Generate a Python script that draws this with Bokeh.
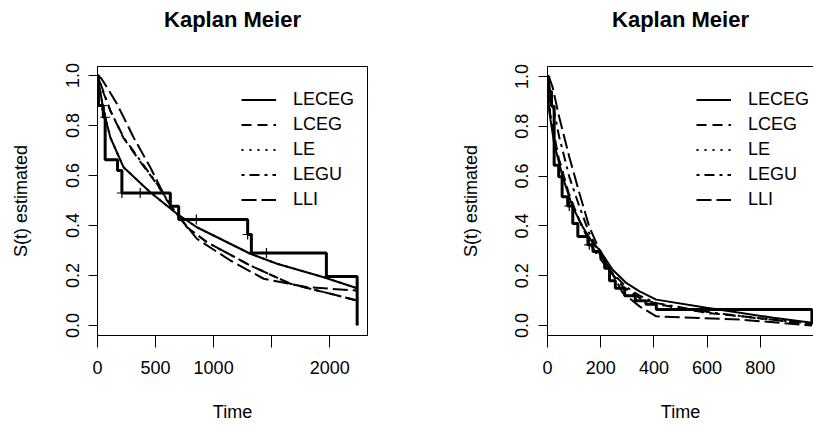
import math
from bokeh.plotting import figure
from bokeh.models import FixedTicker, Legend, LegendItem, LinearAxis, Range1d
from bokeh.layouts import row
from bokeh.embed import file_html
from bokeh.resources import INLINE

FONT = "Liberation Sans"

title_text = "Kaplan Meier"
series_names = ["LECEG", "LCEG", "LE", "LEGU", "LLI"]
series_dash = ["solid", "10 6", "2 6", "3 5 10 5", "15 5"]

# ---------------- Left panel data ----------------
left_km_time = [0, 8, 50, 66, 172, 210, 627, 699, 1293, 1325, 1971, 2236]
left_km_surv = [1.0, 0.88, 0.833, 0.663, 0.62, 0.53, 0.477, 0.424, 0.364, 0.29, 0.196, 0.0]
left_cens_time = [38, 66, 210, 368, 851, 1293, 1455]
left_cens_surv = [0.88, 0.833, 0.53, 0.53, 0.424, 0.364, 0.29]

left_leceg_t = [0, 52, 110, 224, 454, 684, 856, 1316, 1546, 1948, 2236]
left_leceg_s = [1.0, 0.86, 0.753, 0.633, 0.533, 0.447, 0.393, 0.287, 0.247, 0.193, 0.149]
left_lceg_t = [0, 52, 110, 224, 368, 512, 641, 771, 943, 1316, 1661, 2236]
left_lceg_s = [1.0, 0.93, 0.86, 0.75, 0.655, 0.565, 0.473, 0.393, 0.333, 0.24, 0.167, 0.10]
left_le_t = [0, 52, 110, 224, 454, 684, 856, 1316, 1546, 1948, 2236]
left_le_s = [1.0, 0.86, 0.753, 0.633, 0.533, 0.447, 0.393, 0.287, 0.247, 0.193, 0.149]
left_legu_t = [0, 40, 110, 224, 368, 512, 641, 771, 943, 1316, 1661, 2236]
left_legu_s = [1.0, 0.95, 0.86, 0.753, 0.66, 0.567, 0.473, 0.393, 0.333, 0.24, 0.167, 0.10]
left_lli_t = [0, 30, 81, 167, 310, 454, 598, 684, 856, 1144, 1431, 1805, 2236]
left_lli_s = [1.0, 0.99, 0.953, 0.887, 0.753, 0.633, 0.5, 0.447, 0.347, 0.26, 0.187, 0.153, 0.14]

left_x_ticks = [0, 500, 1000, 1500, 2000]
left_x_labels = ["0", "500", "1000", "", "2000"]

# ---------------- Right panel data ----------------
right_km_time = [0, 5, 15, 25, 42, 55, 76, 95, 114, 152, 171, 200, 215, 233, 255, 290, 330, 370, 409, 994]
right_km_surv = [1.0, 0.94, 0.88, 0.644, 0.597, 0.517, 0.48, 0.41, 0.357, 0.324, 0.297, 0.27, 0.23,
                 0.18, 0.15, 0.12, 0.10, 0.085, 0.064, 0.004]
right_cens_time = [82, 157]
right_cens_surv = [0.48, 0.324]

right_leceg_t = [0, 6, 25, 57, 94, 132, 170, 195, 245, 296, 346, 409, 598, 723, 849, 994]
right_leceg_s = [1.0, 0.864, 0.731, 0.597, 0.477, 0.397, 0.331, 0.304, 0.224, 0.171, 0.137, 0.104,
                 0.071, 0.051, 0.031, 0.011]
right_lceg_t = [0, 10, 40, 80, 120, 170, 220, 283, 346, 421, 598, 786, 994]
right_lceg_s = [1.0, 0.85, 0.68, 0.53, 0.42, 0.31, 0.237, 0.157, 0.111, 0.084, 0.051, 0.031, 0.004]
right_le_t = [0, 10, 40, 80, 120, 170, 220, 283, 346, 421, 598, 786, 994]
right_le_s = [1.0, 0.85, 0.68, 0.53, 0.42, 0.31, 0.237, 0.157, 0.111, 0.084, 0.051, 0.031, 0.004]
right_legu_t = [0, 19, 44, 82, 120, 157, 195, 245, 296, 346, 409, 598, 786, 994]
right_legu_s = [1.0, 0.891, 0.757, 0.597, 0.477, 0.371, 0.29, 0.21, 0.155, 0.12, 0.09, 0.055, 0.03, 0.008]
right_lli_t = [0, 8, 19, 44, 82, 120, 157, 195, 283, 346, 409, 723, 994]
right_lli_s = [1.0, 0.99, 0.957, 0.837, 0.677, 0.531, 0.397, 0.304, 0.131, 0.077, 0.037, 0.024, 0.0]

right_x_ticks = [0, 200, 400, 600, 800]
right_x_labels = ["0", "200", "400", "600", "800"]

y_ticks = [0.0, 0.2, 0.4, 0.6, 0.8, 1.0]
y_labels = ["0.0", "0.2", "0.4", "0.6", "0.8", "1.0"]


def style_axis(ax, tick_out, label_standoff, axis_standoff):
    ax.axis_line_color = "black"
    ax.axis_line_width = 1
    ax.major_tick_line_color = "black"
    ax.major_tick_in = 0
    ax.major_tick_out = tick_out
    ax.minor_tick_line_color = None
    ax.major_label_text_font = FONT
    ax.major_label_text_font_size = "18px"
    ax.major_label_text_color = "black"
    ax.major_label_standoff = label_standoff
    ax.axis_label_text_font = FONT
    ax.axis_label_text_font_size = "18px"
    ax.axis_label_text_font_style = "normal"
    ax.axis_label_text_color = "black"
    ax.axis_label_standoff = axis_standoff


def make_panel(km_t, km_s, cens_t, cens_s, curves, x_end, y_end, x_ticks, x_labels,
               width, border_left, border_right, outline, legend_loc):
    p = figure(width=width, height=426, output_backend="svg", toolbar_location=None,
               x_range=Range1d(0, x_end), y_range=Range1d(-0.04, y_end),
               min_border_left=border_left, min_border_right=border_right,
               min_border_top=66, min_border_bottom=91)
    p.grid.visible = False
    p.background_fill_color = "white"
    p.border_fill_color = "white"

    xax = p.below[0]
    xax.ticker = FixedTicker(ticks=x_ticks)
    xax.major_label_overrides = {t: l for t, l in zip(x_ticks, x_labels)}
    xax.axis_label = "Time"
    style_axis(xax, 12, 13, 25)

    yax = p.left[0]
    yax.ticker = FixedTicker(ticks=y_ticks)
    yax.major_label_overrides = {t: l for t, l in zip(y_ticks, y_labels)}
    yax.major_label_orientation = "vertical"
    yax.axis_label = "S(t) estimated"
    style_axis(yax, 9, 10, 32)

    # top edge of the box (no ticks), carrying the panel title
    top = LinearAxis(ticker=FixedTicker(ticks=[]), major_tick_out=0, major_tick_in=0,
                     minor_tick_out=0, minor_tick_in=0, major_label_standoff=0,
                     major_tick_line_color=None, minor_tick_line_color=None,
                     axis_line_color="black", axis_label=title_text,
                     axis_label_standoff=35, axis_label_text_font=FONT,
                     axis_label_text_font_size="22px", axis_label_text_font_style="bold",
                     axis_label_text_color="black")
    p.add_layout(top, "above")
    if outline:
        p.outline_line_color = "black"
        p.outline_line_width = 1
    else:
        p.outline_line_color = None

    # Kaplan-Meier step curve
    p.step(km_t, km_s, mode="after", line_color="black", line_width=3)
    p.scatter(cens_t, cens_s, marker="cross", size=10, line_color="black", line_width=1.2)

    items = []
    for name, dash, (xs, ys) in zip(series_names, series_dash, curves):
        r = p.line(xs, ys, line_color="black", line_width=2, line_dash=dash)
        items.append(LegendItem(label=name, renderers=[r]))

    leg = Legend(items=items, location=legend_loc, padding=0, spacing=4,
                 glyph_width=35, glyph_height=21, label_height=21, label_standoff=17,
                 label_text_font=FONT, label_text_font_size="18px", label_text_color="black",
                 background_fill_alpha=0, border_line_color=None, margin=0)
    p.add_layout(leg)
    return p


left = make_panel(left_km_time, left_km_surv, left_cens_time, left_cens_surv,
                  [(left_leceg_t, left_leceg_s), (left_lceg_t, left_lceg_s), (left_le_t, left_le_s),
                   (left_legu_t, left_legu_s), (left_lli_t, left_lli_s)],
                  2325, 1.036, left_x_ticks, left_x_labels, 457, 97, 90, True, (144, 125))

right = make_panel(right_km_time, right_km_surv, right_cens_time, right_cens_surv,
                   [(right_leceg_t, right_leceg_s), (right_lceg_t, right_lceg_s), (right_le_t, right_le_s),
                    (right_legu_t, right_legu_s), (right_lli_t, right_lli_s)],
                   1000, 1.04, right_x_ticks, right_x_labels, 356, 90, 0, False, (149, 125))

layout = row(left, right)
open("out.html", "w").write(file_html(layout, INLINE))
